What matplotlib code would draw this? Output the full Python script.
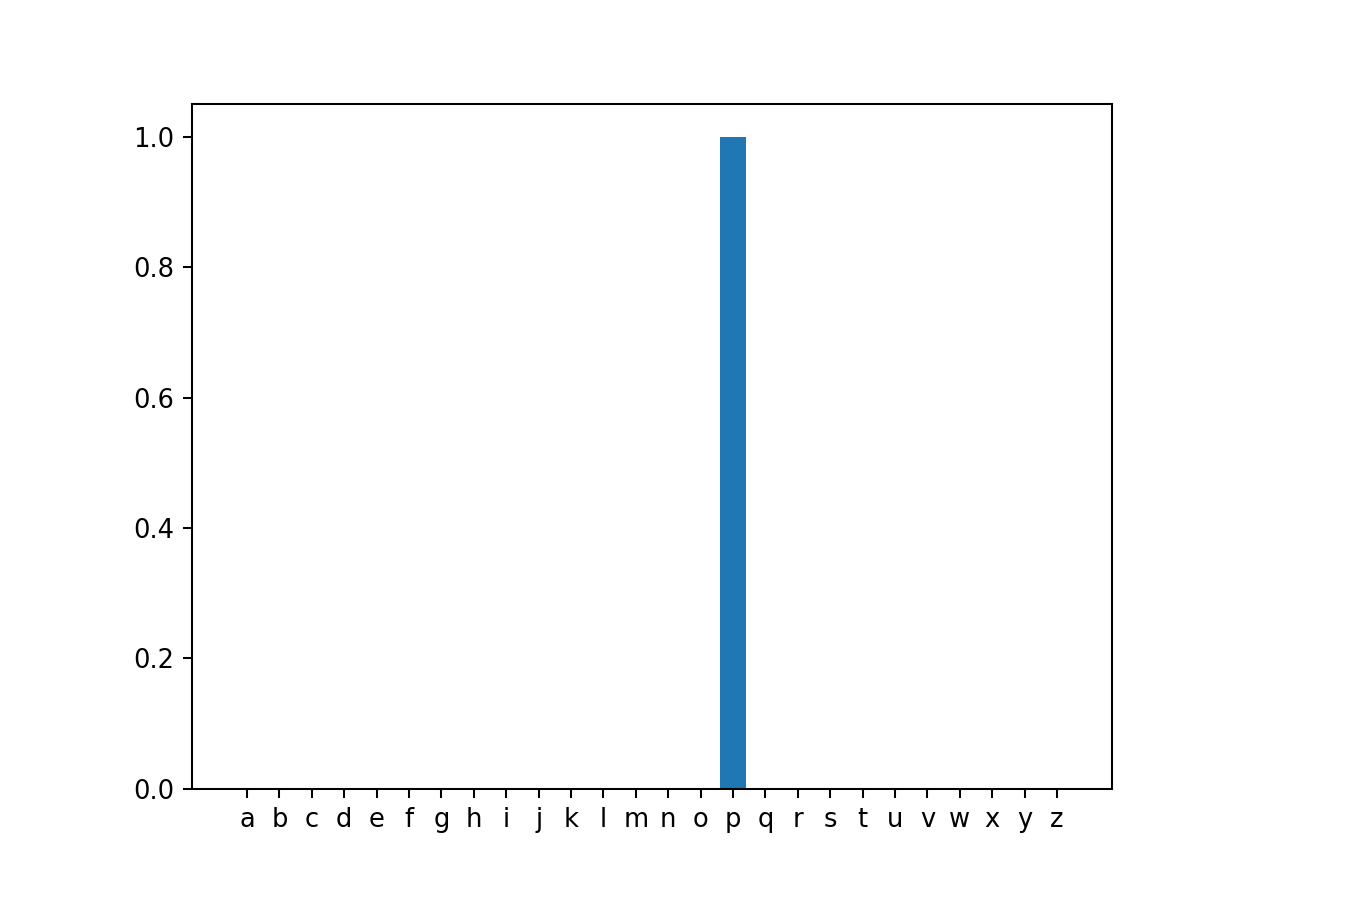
import matplotlib
matplotlib.use("Agg")
import matplotlib.pyplot as plt
import string

letters = list(string.ascii_lowercase)
counts = [0.0] * len(letters)
counts[letters.index('p')] = 1.0

DPI = 185
fig = plt.figure(figsize=(1357 / DPI, 902 / DPI), dpi=DPI)
ax = fig.add_axes([0.1415, 0.1253, 0.8195 - 0.1415, 0.8848 - 0.1253])
ax.bar(range(len(letters)), counts, width=0.8, color='#1f77b4')
ax.set_xticks(range(len(letters)))
ax.set_xticklabels(letters)
ax.set_xlim(-1.7, 26.7)
ax.set_ylim(0, 1.05)
ax.set_yticks([0.0, 0.2, 0.4, 0.6, 0.8, 1.0])
fig.savefig("out.png", dpi=DPI)
